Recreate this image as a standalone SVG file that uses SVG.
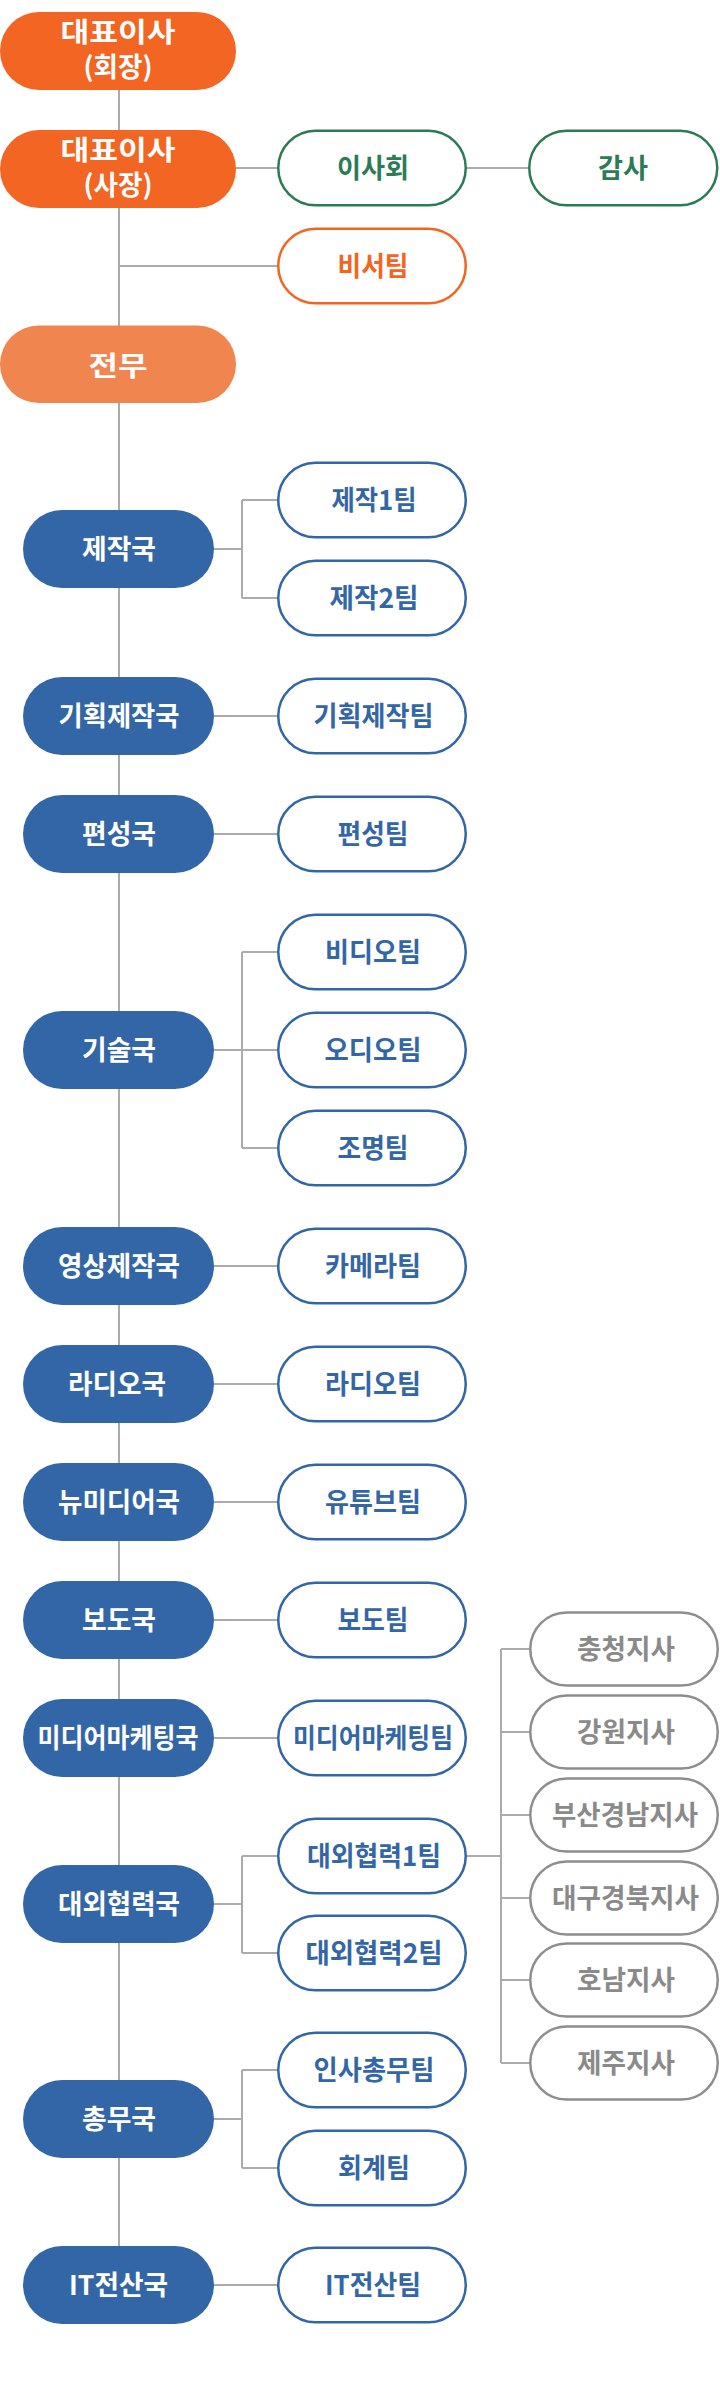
<svg xmlns="http://www.w3.org/2000/svg" width="720" height="2386" viewBox="0 0 720 2386">
<style>
.bg{fill:#fff}
.or{fill:#F26522}
.lo{fill:#F0854F}
.dp{fill:#3366A6}
.tm{fill:#fff;stroke:#3366A6;stroke-width:2.5}
.gr{fill:#fff;stroke:#2B7B55;stroke-width:2.5}
.oo{fill:#fff;stroke:#F26522;stroke-width:2.5}
.gy{fill:#fff;stroke:#8E8E8E;stroke-width:2.5}
.c{fill:none;stroke:#ABABAB;stroke-width:2}
text{font-family:"Noto Sans CJK KR","Noto Sans",sans-serif;font-weight:700;text-anchor:middle;font-size:27px}
.w{fill:#fff}
.b{fill:#3366A6}
.g{fill:#2B7B55}
.o{fill:#F26522}
.y{fill:#8A8A8A}
</style>
<rect class="bg" x="0" y="0" width="720" height="2386"/>
<g id="connectors" class="c">
<path d="M119 90V2247"/>
<path d="M236 168H278M467 168H528"/>
<path d="M119 266H278"/>
<path d="M214 549H242M242 500V598M242 500H278M242 598H278"/>
<path d="M214 716H278"/>
<path d="M214 834H278"/>
<path d="M214 1050H278M242 952V1148M242 952H278M242 1148H278"/>
<path d="M214 1266H278"/>
<path d="M214 1384H278"/>
<path d="M214 1502H278"/>
<path d="M214 1620H278"/>
<path d="M214 1738H278"/>
<path d="M214 1904H242M242 1856V1953M242 1856H278M242 1953H278"/>
<path d="M467 1856H501M501 1649V2063M501 1649H529M501 1732H529M501 1815H529M501 1898H529M501 1980H529M501 2063H529"/>
<path d="M214 2119H242M242 2070V2168M242 2070H278M242 2168H278"/>
<path d="M214 2285H278"/>
</g>
<g id="ceo1"><rect class="or" x="0" y="12" width="236" height="78" rx="39"/><text class="w" x="118" y="42" font-size="26" textLength="115" lengthAdjust="spacingAndGlyphs">대표이사</text><text class="w" x="118" y="77" textLength="69" lengthAdjust="spacingAndGlyphs">(회장)</text></g>
<g id="ceo2"><rect class="or" x="0" y="130" width="236" height="78" rx="39"/><text class="w" x="118" y="160" font-size="26" textLength="115" lengthAdjust="spacingAndGlyphs">대표이사</text><text class="w" x="118" y="195" textLength="69" lengthAdjust="spacingAndGlyphs">(사장)</text></g>
<g id="board"><rect class="gr" x="278.25" y="130.75" width="187.5" height="74.5" rx="37.25"/><text class="g" x="373" y="178" textLength="72" lengthAdjust="spacingAndGlyphs">이사회</text></g>
<g id="audit"><rect class="gr" x="529.25" y="130.75" width="188" height="74.5" rx="37.25"/><text class="g" x="623" y="178" textLength="50" lengthAdjust="spacingAndGlyphs">감사</text></g>
<g id="secretary"><rect class="oo" x="278.25" y="228.75" width="187.5" height="74.5" rx="37.25"/><text class="o" x="373" y="276" textLength="71" lengthAdjust="spacingAndGlyphs">비서팀</text></g>
<g id="exec"><rect class="lo" x="0" y="325.5" width="236" height="77.5" rx="38.75"/><text class="w" x="118" y="375.5" font-size="30" textLength="59" lengthAdjust="spacingAndGlyphs">전무</text></g>

<g id="d1"><rect class="dp" x="23" y="510" width="191" height="78" rx="39"/><text class="w" x="119" y="559" textLength="74" lengthAdjust="spacingAndGlyphs">제작국</text></g>
<g id="t1a"><rect class="tm" x="278.25" y="462.75" width="187.5" height="74.5" rx="37.25"/><text class="b" x="374" y="510" textLength="85" lengthAdjust="spacingAndGlyphs">제작1팀</text></g>
<g id="t1b"><rect class="tm" x="278.25" y="560.75" width="187.5" height="74.5" rx="37.25"/><text class="b" x="374" y="608" textLength="89" lengthAdjust="spacingAndGlyphs">제작2팀</text></g>

<g id="d2"><rect class="dp" x="23" y="677" width="191" height="78" rx="39"/><text class="w" x="119" y="726" textLength="121" lengthAdjust="spacingAndGlyphs">기획제작국</text></g>
<g id="t2"><rect class="tm" x="278.25" y="678.75" width="187.5" height="74.5" rx="37.25"/><text class="b" x="373.5" y="726" textLength="120" lengthAdjust="spacingAndGlyphs">기획제작팀</text></g>

<g id="d3"><rect class="dp" x="23" y="795" width="191" height="78" rx="39"/><text class="w" x="119" y="844" textLength="74" lengthAdjust="spacingAndGlyphs">편성국</text></g>
<g id="t3"><rect class="tm" x="278.25" y="796.75" width="187.5" height="74.5" rx="37.25"/><text class="b" x="373" y="844" textLength="71" lengthAdjust="spacingAndGlyphs">편성팀</text></g>

<g id="d4"><rect class="dp" x="23" y="1011" width="191" height="78" rx="39"/><text class="w" x="119" y="1060" textLength="74" lengthAdjust="spacingAndGlyphs">기술국</text></g>
<g id="t4a"><rect class="tm" x="278.25" y="914.75" width="187.5" height="74.5" rx="37.25"/><text class="b" x="373" y="962" textLength="96" lengthAdjust="spacingAndGlyphs">비디오팀</text></g>
<g id="t4b"><rect class="tm" x="278.25" y="1012.75" width="187.5" height="74.5" rx="37.25"/><text class="b" x="373" y="1060" textLength="97" lengthAdjust="spacingAndGlyphs">오디오팀</text></g>
<g id="t4c"><rect class="tm" x="278.25" y="1110.75" width="187.5" height="74.5" rx="37.25"/><text class="b" x="373" y="1158" textLength="71" lengthAdjust="spacingAndGlyphs">조명팀</text></g>

<g id="d5"><rect class="dp" x="23" y="1227" width="191" height="78" rx="39"/><text class="w" x="119" y="1276" textLength="122" lengthAdjust="spacingAndGlyphs">영상제작국</text></g>
<g id="t5"><rect class="tm" x="278.25" y="1228.75" width="187.5" height="74.5" rx="37.25"/><text class="b" x="373" y="1276" textLength="96" lengthAdjust="spacingAndGlyphs">카메라팀</text></g>

<g id="d6"><rect class="dp" x="23" y="1345" width="191" height="78" rx="39"/><text class="w" x="117" y="1394" textLength="98" lengthAdjust="spacingAndGlyphs">라디오국</text></g>
<g id="t6"><rect class="tm" x="278.25" y="1346.75" width="187.5" height="74.5" rx="37.25"/><text class="b" x="373" y="1394" textLength="96" lengthAdjust="spacingAndGlyphs">라디오팀</text></g>

<g id="d7"><rect class="dp" x="23" y="1463" width="191" height="78" rx="39"/><text class="w" x="119" y="1512" textLength="122" lengthAdjust="spacingAndGlyphs">뉴미디어국</text></g>
<g id="t7"><rect class="tm" x="278.25" y="1464.75" width="187.5" height="74.5" rx="37.25"/><text class="b" x="373" y="1512" textLength="96" lengthAdjust="spacingAndGlyphs">유튜브팀</text></g>

<g id="d8"><rect class="dp" x="23" y="1581" width="191" height="78" rx="39"/><text class="w" x="119" y="1630" textLength="74" lengthAdjust="spacingAndGlyphs">보도국</text></g>
<g id="t8"><rect class="tm" x="278.25" y="1582.75" width="187.5" height="74.5" rx="37.25"/><text class="b" x="373" y="1630" textLength="71" lengthAdjust="spacingAndGlyphs">보도팀</text></g>

<g id="d9"><rect class="dp" x="23" y="1699" width="191" height="78" rx="39"/><text class="w" x="118" y="1748" textLength="161" lengthAdjust="spacingAndGlyphs">미디어마케팅국</text></g>
<g id="t9"><rect class="tm" x="278.25" y="1700.75" width="187.5" height="74.5" rx="37.25"/><text class="b" x="373" y="1748" textLength="160" lengthAdjust="spacingAndGlyphs">미디어마케팅팀</text></g>

<g id="d10"><rect class="dp" x="23" y="1865" width="191" height="78" rx="39"/><text class="w" x="119" y="1914" textLength="122" lengthAdjust="spacingAndGlyphs">대외협력국</text></g>
<g id="t10a"><rect class="tm" x="278.25" y="1818.75" width="187.5" height="74.5" rx="37.25"/><text class="b" x="374" y="1866" textLength="134" lengthAdjust="spacingAndGlyphs">대외협력1팀</text></g>
<g id="t10b"><rect class="tm" x="278.25" y="1915.75" width="187.5" height="74.5" rx="37.25"/><text class="b" x="374" y="1963" textLength="137" lengthAdjust="spacingAndGlyphs">대외협력2팀</text></g>

<g id="b1"><rect class="gy" x="530.25" y="1612.5" width="187.5" height="73" rx="36.5"/><text class="y" x="626" y="1659" textLength="98" lengthAdjust="spacingAndGlyphs">충청지사</text></g>
<g id="b2"><rect class="gy" x="530.25" y="1695.5" width="187.5" height="73" rx="36.5"/><text class="y" x="626" y="1742" textLength="98" lengthAdjust="spacingAndGlyphs">강원지사</text></g>
<g id="b3"><rect class="gy" x="530.25" y="1778.5" width="187.5" height="73" rx="36.5"/><text class="y" x="625" y="1825" textLength="146" lengthAdjust="spacingAndGlyphs">부산경남지사</text></g>
<g id="b4"><rect class="gy" x="530.25" y="1861.5" width="187.5" height="73" rx="36.5"/><text class="y" x="625.5" y="1908" textLength="147" lengthAdjust="spacingAndGlyphs">대구경북지사</text></g>
<g id="b5"><rect class="gy" x="530.25" y="1943.5" width="187.5" height="73" rx="36.5"/><text class="y" x="626" y="1990" textLength="98" lengthAdjust="spacingAndGlyphs">호남지사</text></g>
<g id="b6"><rect class="gy" x="530.25" y="2026.5" width="187.5" height="73" rx="36.5"/><text class="y" x="626" y="2073" textLength="98" lengthAdjust="spacingAndGlyphs">제주지사</text></g>

<g id="d11"><rect class="dp" x="23" y="2080" width="191" height="78" rx="39"/><text class="w" x="119" y="2129" textLength="74" lengthAdjust="spacingAndGlyphs">총무국</text></g>
<g id="t11a"><rect class="tm" x="278.25" y="2032.75" width="187.5" height="74.5" rx="37.25"/><text class="b" x="374" y="2080" textLength="121" lengthAdjust="spacingAndGlyphs">인사총무팀</text></g>
<g id="t11b"><rect class="tm" x="278.25" y="2130.75" width="187.5" height="74.5" rx="37.25"/><text class="b" x="374" y="2178" textLength="72" lengthAdjust="spacingAndGlyphs">회계팀</text></g>

<g id="d12"><rect class="dp" x="23" y="2246" width="191" height="78" rx="39"/><text class="w" x="118.5" y="2295" textLength="99" lengthAdjust="spacingAndGlyphs">IT전산국</text></g>
<g id="t12"><rect class="tm" x="278.25" y="2247.75" width="187.5" height="74.5" rx="37.25"/><text class="b" x="373" y="2295" textLength="96" lengthAdjust="spacingAndGlyphs">IT전산팀</text></g>
</svg>
